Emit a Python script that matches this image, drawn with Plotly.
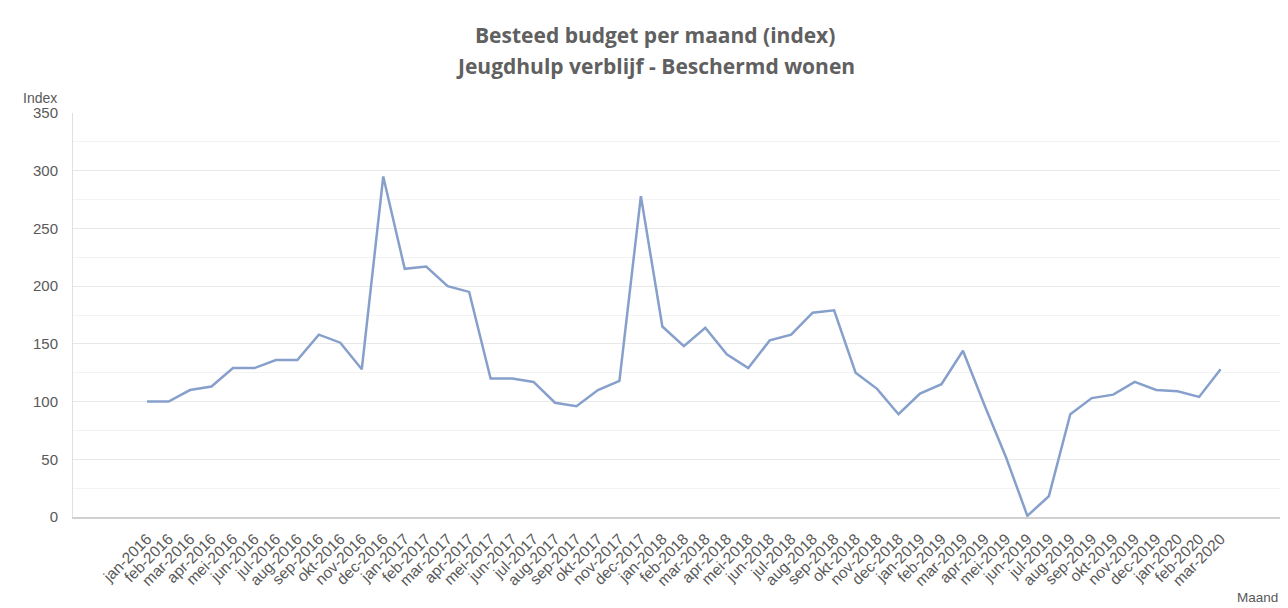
import plotly.graph_objs as go

maanden = ['jan', 'feb', 'mar', 'apr', 'mei', 'jun', 'jul', 'aug', 'sep', 'okt', 'nov', 'dec']
labels = [f'{m}-{j}' for j in range(2016, 2020) for m in maanden] + ['jan-2020', 'feb-2020', 'mar-2020']

# index values
index_2016 = [100, 100, 110, 113, 129, 129, 136, 136, 158, 151, 128, 295]
index_2017 = [215, 217, 200, 195, 120, 120, 117, 99, 96, 110, 118, 278]
index_2018 = [165, 148, 164, 141, 129, 153, 158, 177, 179, 125, 111, 89]
index_2019 = [107, 115, 144, 97, 52, 1, 18, 89, 103, 106, 117, 110]
index_2020 = [109, 104, 128]
values = index_2016 + index_2017 + index_2018 + index_2019 + index_2020

title_lines = ['Besteed budget per maand (index)', 'Jeugdhulp verblijf - Beschermd wonen']

grey = '#595959'

fig = go.Figure()
fig.add_trace(go.Scatter(x=labels, y=values, mode='lines',
                         line={"color": '#86a0cb', "width": 2.5}, name='Index'))

# page body adds an 8px offset, so the figure is 8px smaller on each side
fig.update_layout(
    width=1280, height=600,
    margin={"l": 65, "r": 3, "t": 105, "b": 91},
    paper_bgcolor='white', plot_bgcolor='white',
    showlegend=False,
    font={"family": 'Liberation Sans, Arial', "color": grey, "size": 12},
)
fig.update_xaxes(type='category', range=[-3.45, 53], tickangle=-45,
                 tickfont={"size": 15.5, "color": grey}, automargin=False,
                 showgrid=False, showline=True, linecolor='#d0d0d0', linewidth=1.5,
                 ticks='outside', ticklen=5, tickcolor='rgba(0,0,0,0)', fixedrange=True)
fig.update_yaxes(range=[0, 350], dtick=50, tickfont={"size": 15, "color": grey},
                 automargin=False,
                 showgrid=True, gridcolor='#e8e8e8', gridwidth=1,
                 minor={"dtick": 25, "showgrid": True, "gridcolor": '#f3f3f3'},
                 showline=True, linecolor='#e0e0e0', zeroline=False,
                 ticks='outside', ticklen=11, tickcolor='rgba(0,0,0,0)')

# two title lines placed separately to match the wider line spacing
for txt, ypos in zip(title_lines, [1.193, 1.116]):
    fig.add_annotation(text=f'<b>{txt}</b>', xref='paper', yref='paper', x=0.4806, y=ypos,
                       xanchor='center', yanchor='middle', showarrow=False,
                       font={"family": 'Open Sans', "size": 21, "color": '#606060'})

fig.add_annotation(text='Index', xref='paper', yref='paper', x=-0.0116, y=1.038,
                   xanchor='right', yanchor='middle', showarrow=False,
                   font={"size": 14, "color": grey})
fig.add_annotation(text='Maand', xref='paper', yref='paper', x=0.996, y=-0.2,
                   xanchor='right', yanchor='middle', showarrow=False,
                   font={"size": 13.5, "color": grey})

fig.write_html("out.html")
